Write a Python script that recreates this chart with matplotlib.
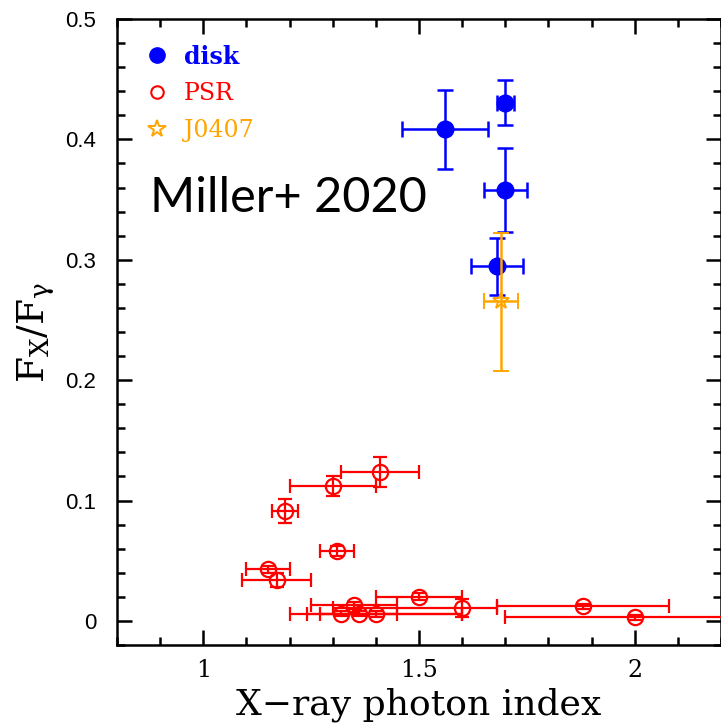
import matplotlib
matplotlib.use("Agg")
import matplotlib.pyplot as plt
from matplotlib.lines import Line2D
from matplotlib.ticker import MultipleLocator

plt.rcParams['mathtext.fontset'] = 'dejavuserif'

# disk sources: value, lower and upper error bounds
disk_x = [1.56, 1.70, 1.70, 1.68]
disk_y = [0.409, 0.430, 0.358, 0.295]
disk_xlo = [1.46, 1.68, 1.65, 1.62]
disk_xhi = [1.66, 1.72, 1.75, 1.74]
disk_ylo = [0.375, 0.412, 0.323, 0.271]
disk_yhi = [0.441, 0.449, 0.393, 0.318]

# pulsars
psr_x = [1.41, 1.30, 1.19, 1.31, 1.15, 1.17, 1.50, 1.35, 1.60, 1.32, 1.36, 1.40, 1.88, 2.00]
psr_y = [0.124, 0.112, 0.091, 0.058, 0.043, 0.034, 0.020, 0.013, 0.011, 0.006, 0.006, 0.006, 0.012, 0.003]
psr_xlo = [1.32, 1.20, 1.16, 1.27, 1.10, 1.09, 1.40, 1.25, 1.30, 1.20, 1.24, 1.27, 1.68, 1.70]
psr_xhi = [1.50, 1.40, 1.22, 1.35, 1.20, 1.25, 1.60, 1.45, 1.68, 1.60, 1.45, 1.60, 2.08, 2.30]
psr_ylo = [0.111, 0.104, 0.081, 0.054, 0.040, 0.028, 0.017, 0.010, 0.003, 0.004, 0.004, 0.003, 0.010, 0.001]
psr_yhi = [0.136, 0.120, 0.101, 0.062, 0.046, 0.040, 0.023, 0.016, 0.018, 0.008, 0.008, 0.008, 0.014, 0.005]

# J0407
j_x = [1.69]
j_y = [0.266]
j_xlo = [1.65]
j_xhi = [1.73]
j_ylo = [0.208]
j_yhi = [0.322]

BLUE = '#0000ff'
RED = '#ff0000'
ORANGE = '#ffa500'


def errs(v, lo, hi):
    return [[a - b for a, b in zip(v, lo)], [b - a for a, b in zip(v, hi)]]


fig = plt.figure(figsize=(7.21, 7.24), dpi=100)
ax = fig.add_axes([117 / 721, 79 / 724, 604 / 721, 626 / 724])

ax.errorbar(psr_x, psr_y, xerr=errs(psr_x, psr_xlo, psr_xhi), yerr=errs(psr_y, psr_ylo, psr_yhi),
            fmt='o', ms=11, mfc='none', mec=RED, mew=1.6, color=RED, elinewidth=1.6,
            capsize=5, capthick=1.6, zorder=3)
ax.errorbar(disk_x, disk_y, xerr=errs(disk_x, disk_xlo, disk_xhi), yerr=errs(disk_y, disk_ylo, disk_yhi),
            fmt='o', ms=12, color=BLUE, elinewidth=1.8, capsize=6, capthick=1.8, zorder=3)
ax.errorbar(j_x, j_y, xerr=errs(j_x, j_xlo, j_xhi), yerr=errs(j_y, j_ylo, j_yhi),
            fmt='*', ms=12, mfc='none', mec=ORANGE, mew=1.4, color=ORANGE, elinewidth=1.8,
            capsize=6, capthick=1.8, zorder=4)

ax.set_xlim(0.8, 2.2)
ax.set_ylim(-0.02, 0.5)

ax.xaxis.set_minor_locator(MultipleLocator(0.1))
ax.yaxis.set_minor_locator(MultipleLocator(0.02))
ax.set_xticks([1, 1.5, 2])
ax.set_xticklabels(['1', '1.5', '2'], fontfamily='DejaVu Serif', fontsize=17)
ax.set_yticks([0, 0.1, 0.2, 0.3, 0.4, 0.5])
ax.set_yticklabels(['0', '0.1', '0.2', '0.3', '0.4', '0.5'], fontfamily='Liberation Sans', fontsize=16)

ax.tick_params(which='both', direction='in', top=True, right=True, width=1.8, color='black')
ax.tick_params(which='major', length=11)
ax.tick_params(which='minor', length=6)
ax.tick_params(axis='y', which='major', pad=15)
ax.tick_params(axis='x', which='major', pad=10)
for s in ax.spines.values():
    s.set_linewidth(1.8)

ax.set_xlabel('X\u2212ray photon index', fontfamily='DejaVu Serif', fontsize=26, labelpad=4)
ax.set_ylabel(r'$\mathrm{F_X/F_\gamma}$', fontsize=27, labelpad=6)

ax.text(0.877, 0.340, 'Miller+ 2020', fontfamily='Lato', fontsize=35, color='black', va='baseline')

handles = [
    Line2D([], [], marker='o', ls='none', ms=11, color=BLUE),
    Line2D([], [], marker='o', ls='none', ms=9, mfc='none', mec=RED, mew=1.5),
    Line2D([], [], marker='*', ls='none', ms=13, mfc='none', mec=ORANGE, mew=1.4),
]
leg = ax.legend(handles, ['disk', 'PSR', 'J0407'], loc='upper left', bbox_to_anchor=(0.011, 0.993),
                frameon=False, handlelength=1.0, handletextpad=0.65, labelspacing=0.58,
                prop={'family': 'DejaVu Serif', 'size': 17},
                labelcolor=[BLUE, RED, ORANGE])
leg.get_texts()[0].set_fontweight('bold')

fig.savefig('out.png', dpi=100)
